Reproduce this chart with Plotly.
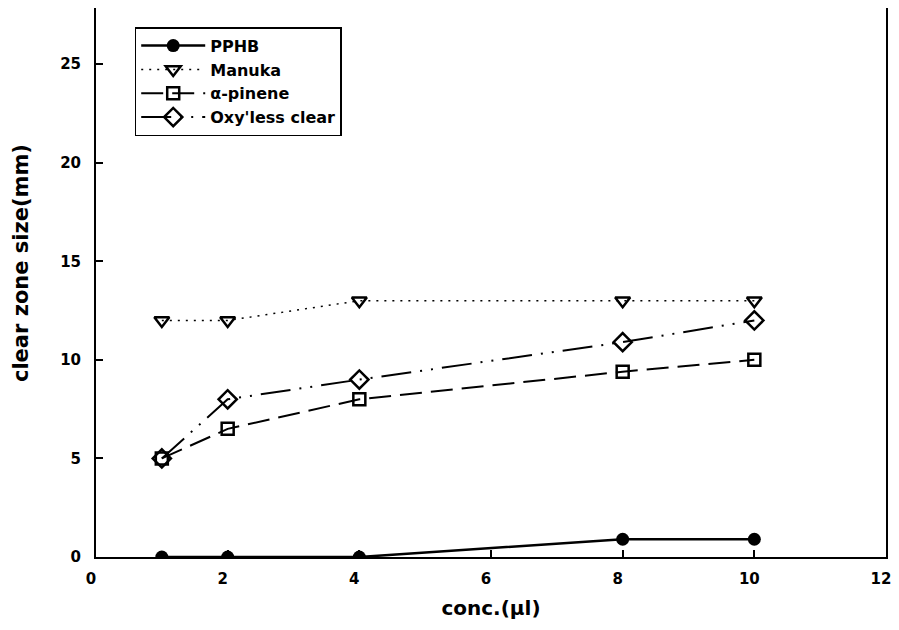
import plotly.graph_objects as go

conc = [1, 2, 4, 8, 10]
pphb = [0, 0, 0, 0.9, 0.9]
manuka = [12, 12, 13, 13, 13]
alpha_pinene = [5, 6.5, 8, 9.4, 10]
oxyless = [5, 8, 9, 10.9, 12]

x_ticks = [0, 2, 4, 6, 8, 10, 12]
y_ticks = [0, 5, 10, 15, 20, 25]

FONT = "DejaVu Sans, Liberation Sans, Arial, sans-serif"

fig = go.Figure()
fig.add_trace(go.Scatter(
    x=conc, y=pphb, name="<b>PPHB</b>", mode="lines+markers",
    line=dict(color="black", width=2.5),
    marker=dict(symbol="circle", size=13, color="black")))
fig.add_trace(go.Scatter(
    x=conc, y=manuka, name="<b>Manuka</b>", mode="lines+markers",
    line=dict(color="black", width=1.5, dash="2px,6px"),
    marker=dict(symbol="triangle-down-open", size=13, color="black",
                line=dict(width=2.5))))
fig.add_trace(go.Scatter(
    x=conc, y=alpha_pinene, name="<b>\u03b1-pinene</b>", mode="lines+markers",
    line=dict(color="black", width=2, dash="22px,9px"),
    marker=dict(symbol="square-open", size=12, color="black",
                line=dict(width=2.5))))
fig.add_trace(go.Scatter(
    x=conc, y=oxyless, name="<b>Oxy'less clear</b>", mode="lines+markers",
    line=dict(color="black", width=2, dash="30px,9px,2px,9px,2px,9px"),
    marker=dict(symbol="diamond-open", size=14, color="black",
                line=dict(width=2.5))))

axis_common = dict(
    showline=True, linecolor="black", linewidth=2, mirror=True,
    ticks="inside", ticklen=7, tickwidth=1.5, tickcolor="black",
    showgrid=False, zeroline=False, automargin=False,
    ticklabeloverflow="allow",
    tickfont=dict(family=FONT, size=15, color="black", weight="bold"),
)

fig.update_layout(
    width=885, height=612,
    margin=dict(l=88, r=7, t=0, b=63),
    paper_bgcolor="white", plot_bgcolor="white",
    font=dict(family=FONT, color="black"),
    xaxis=dict(range=[0, 12], tickvals=x_ticks, ticklabelstandoff=7, ticklabelshift=-5,
               title=dict(text="<b>conc.(\u03bcl)</b>", font=dict(family=FONT, size=20), standoff=14),
               **axis_common),
    yaxis=dict(range=[0, 27.85], tickvals=y_ticks, ticklabelstandoff=10,
               **axis_common),
    legend=dict(x=0.049, y=0.965, xanchor="left", yanchor="top",
                bgcolor="white", bordercolor="black", borderwidth=1.5,
                font=dict(family=FONT, size=16, color="black"),
                tracegroupgap=0, itemwidth=64),
    showlegend=True,
    annotations=[dict(
        text="<b>clear zone size(mm)</b>", textangle=-90,
        xref="paper", yref="paper", x=-0.0949, y=0.5355,
        xanchor="center", yanchor="middle", showarrow=False,
        font=dict(family=FONT, size=21, color="black"))],
)

fig.write_html("out.html")
